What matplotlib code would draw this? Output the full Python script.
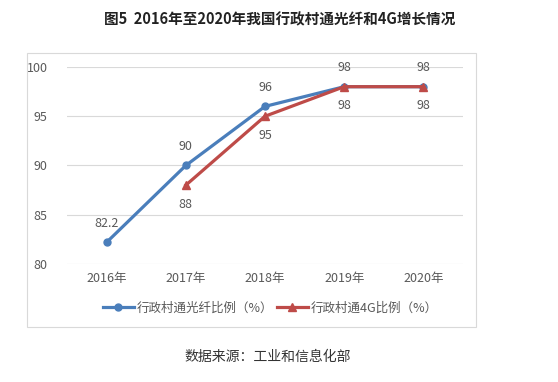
"""Village fibre and 4G coverage in China, 2016-2020
"""
import matplotlib.pyplot as plt
import matplotlib.patches as mpatches

plt.rcParams['font.family'] = ['Noto Sans CJK SC', 'DejaVu Sans']

# Data
years = ['2016年', '2017年', '2018年', '2019年', '2020年']
fibre = [82.2, 90, 96, 98, 98]
g4_years = [1, 2, 3, 4]
g4 = [88, 95, 98, 98]
fibre_label = '行政村通光纤比例（%）'
g4_label = '行政村通4G比例（%）'

blue = '#4A7EBB'
red = '#BE4B48'
grey = '#595959'

W, H = 558, 382
fig = plt.figure(figsize=(W / 100, H / 100), dpi=100)

# chart frame
fig.patches.append(mpatches.Rectangle(
    (27 / W, 1 - 327 / H), 449 / W, 274 / H, transform=fig.transFigure,
    facecolor='white', edgecolor='#D9D9D9', linewidth=0.8, zorder=-1))

ax = fig.add_axes([67 / W, 1 - 264 / H, 396 / W, 197 / H])
ax.set_facecolor('none')
x = list(range(len(years)))
ax.plot(x, fibre, color=blue, linewidth=2.3, marker='o', markersize=5,
        label=fibre_label, zorder=3)
ax.plot(g4_years, g4, color=red, linewidth=2.3, marker='^', markersize=6,
        label=g4_label, zorder=3)

for xi, v in zip(x, fibre):
    ax.annotate(f'{v:g}', (xi, v), xytext=(0, 9), textcoords='offset points',
                ha='center', va='bottom', fontsize=9, color=grey)
for xi, v in zip(g4_years, g4):
    ax.annotate(f'{v:g}', (xi, v), xytext=(0, -9), textcoords='offset points',
                ha='center', va='top', fontsize=9, color=grey)

ax.set_xlim(-0.5, 4.5)
ax.set_ylim(80, 100)
ax.set_yticks([80, 85, 90, 95, 100])
ax.set_xticks(x)
ax.set_xticklabels(years)
ax.grid(axis='y', color='#D9D9D9', linewidth=0.8)
ax.set_axisbelow(True)
for s in ax.spines.values():
    s.set_visible(False)
ax.tick_params(length=0, labelsize=9, labelcolor=grey)
ax.tick_params(axis='x', pad=6)
ax.tick_params(axis='y', pad=14)

fig.legend(loc='center', bbox_to_anchor=(270 / W, 1 - 308 / H), ncol=2,
           frameon=False, fontsize=9, labelcolor=grey, handlelength=2.5,
           columnspacing=0.3, handletextpad=0.2)

fig.text(280 / W, 1 - 19 / H, '图5  2016年至2020年我国行政村通光纤和4G增长情况',
         ha='center', va='center', fontsize=10.5, fontweight='bold', color='#222222')
fig.text(268 / W, 1 - 357 / H, '数据来源：工业和信息化部',
         ha='center', va='center', fontsize=10, color='#333333')

plt.savefig('out.png')
